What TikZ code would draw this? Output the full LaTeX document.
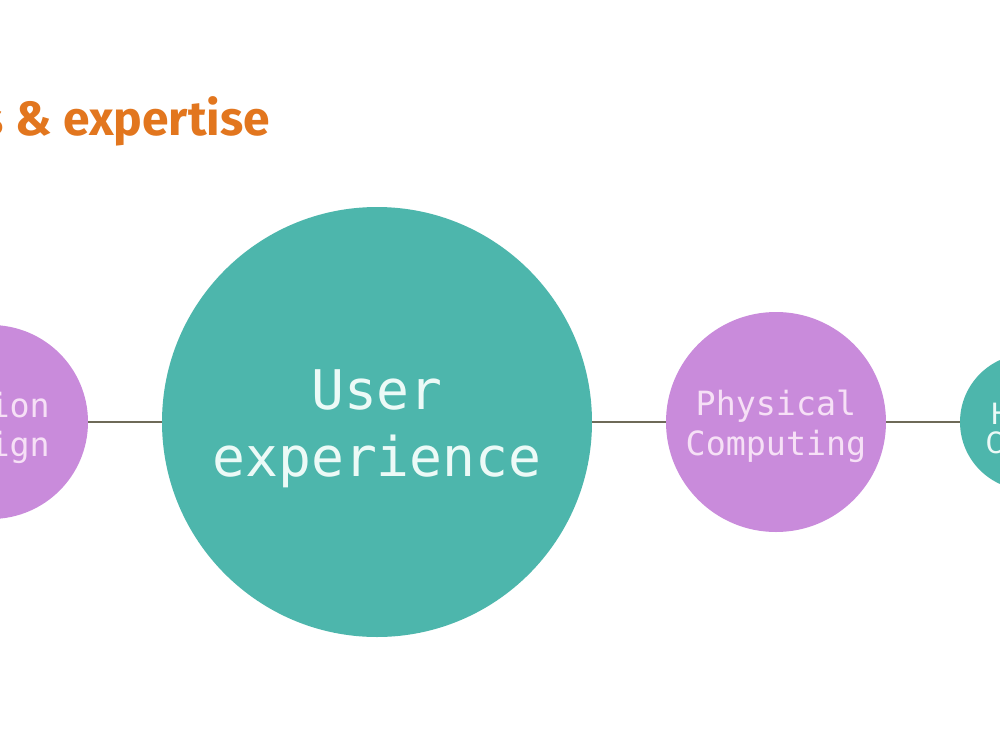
\documentclass[tikz,border=0pt]{standalone}
\usepackage{fontspec}
\setmainfont{Fira Sans}
\newfontfamily\monofont{DejaVu Sans Mono}
\newfontfamily\titlefont{Fira Sans}
\definecolor{teal1}{HTML}{4DB6AC}
\definecolor{purp1}{HTML}{C98BDB}
\definecolor{linec}{HTML}{6E6A58}
\definecolor{orange1}{HTML}{E2761E}
\definecolor{txtteal}{HTML}{ECFAF7}
\definecolor{txtpurp}{HTML}{F6E0F6}
\tikzset{
  tealc/.style={circle, fill=teal1, draw=none, inner sep=0pt},
  purpc/.style={circle, fill=purp1, draw=none, inner sep=0pt},
  link/.style={draw=linec, line width=1.7pt},
  lbl/.style={font=\monofont, align=center, inner sep=0pt},
}
\begin{document}
\begin{tikzpicture}[x=0.75pt, y=-0.75pt]
\useasboundingbox (0,0) rectangle (1000,750);
\fill[white] (0,0) rectangle (1000,750);
% circles
\node[purpc, minimum size=145.5pt] (left) at (-9,422) {};
\node[tealc, minimum size=322.5pt] (ux) at (377,422) {};
\node[purpc, minimum size=165pt] (phys) at (776,422) {};
\node[tealc, minimum size=102pt] (right) at (1028,422) {};
% connectors
\draw[link] (left.east) -- (ux.west);
\draw[link] (ux.east) -- (phys.west);
\draw[link] (phys.east) -- (right.west);
% labels
\node[lbl, anchor=base east, text=txtpurp, font=\monofont\fontsize{25pt}{30pt}\selectfont] (lt1) at (50,417) {ion};
\node[lbl, anchor=base east, text=txtpurp, font=\monofont\fontsize{25pt}{30pt}\selectfont] (lt2) at (50,456) {ign};
\node[lbl, anchor=base, text=txtteal, font=\monofont\fontsize{41pt}{50pt}\selectfont] (ut1) at (377,409) {User};
\node[lbl, anchor=base, text=txtteal, font=\monofont\fontsize{41pt}{50pt}\selectfont] (ut2) at (377,476) {experience};
\node[lbl, anchor=base, text=txtpurp, font=\monofont\fontsize{25pt}{30pt}\selectfont] (pt1) at (776,415) {Physical};
\node[lbl, anchor=base, text=txtpurp, font=\monofont\fontsize{25pt}{30pt}\selectfont] (pt2) at (776,455) {Computing};
\node[lbl, anchor=base west, text=txtteal, font=\monofont\fontsize{22pt}{26pt}\selectfont] (rt1) at (991,424) {H};
\node[lbl, anchor=base west, text=txtteal, font=\monofont\fontsize{22pt}{26pt}\selectfont] (rt2) at (985,453) {C};
% title
\node[anchor=base east, inner sep=0pt, text=orange1, font=\titlefont\bfseries\fontsize{36pt}{40pt}\selectfont] (title) at (270,135) {s \& expertise};
\end{tikzpicture}
\end{document}
